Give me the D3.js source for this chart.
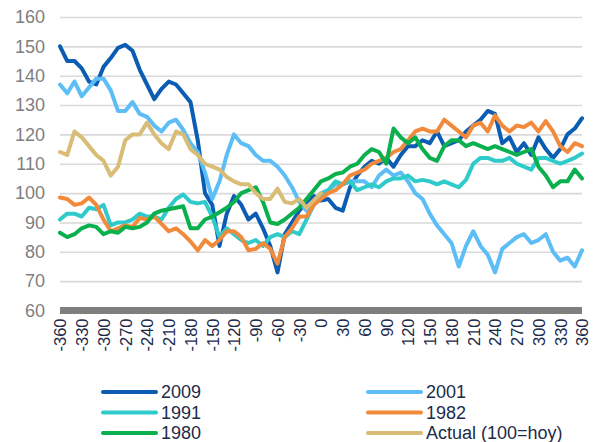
<!DOCTYPE html>
<html>
<head>
<meta charset="utf-8">
<script src="https://cdn.jsdelivr.net/npm/d3@7"></script>
<style>
  body { margin: 0; background: #fff; }
  svg { font-family: "Liberation Sans", Arial, sans-serif; }
</style>
</head>
<body>
<svg width="594" height="442"></svg>
<script>
// days relative to today, every 10 days
const days = d3.range(-360, 361, 10);
const xTicks = d3.range(-360, 361, 30);
const yTicks = [60, 70, 80, 90, 100, 110, 120, 130, 140, 150, 160];

const s2009 = [150, 145, 145, 142.5, 138, 137, 143, 146, 149.5, 150.5, 148.5, 142, 137, 132, 135.5,
  138, 137, 134, 131, 118, 100, 96, 82, 93, 99, 96, 91, 93, 88, 82, 73, 86, 90, 94, 97, 99, 97.5,
  98, 95, 94, 102, 106, 109, 111, 110, 112, 109, 113, 116, 116, 118, 117, 121, 116, 117, 118, 121,
  123, 125, 128, 127, 117, 119, 114, 117, 113, 119, 115, 112, 115, 120, 122, 125.5];
const s2001 = [137, 134, 138, 133, 136, 139, 139, 135, 128, 128, 131, 127, 126, 123, 121,
  124, 125, 121.5, 117, 114, 107, 98, 104, 113, 120, 117, 116, 113, 111, 111, 109, 106, 102, 97, 94,
  97, 100, 101, 103, 103, 104, 104, 104, 102, 106, 108, 106, 107, 104, 100, 98, 93, 89, 86, 83, 75,
  82, 87, 82, 79, 73, 81, 83, 85, 86, 83, 84, 86, 80, 77, 78, 75, 80.5];
const s1991 = [91, 93, 93, 92, 95, 94.5, 96, 89, 90, 90, 91, 93, 92, 92, 91, 95, 98, 99.5, 97,
  96.5, 97, 92, 85, 88, 86, 84, 83, 84, 82, 85, 86, 85, 87, 86, 91, 96, 99, 101, 104, 103, 104, 101,
  102, 103, 102, 104, 105, 105, 106, 104, 104.5, 104, 103, 104, 103, 102, 104.5, 110, 112, 112, 111,
  111, 112, 110, 109, 108, 112, 112, 111, 110, 111, 112, 113.5];
const s1982 = [98.5, 98, 96, 96.5, 98.5, 96, 91, 87, 88, 89, 88.5, 91.5, 91, 92, 89.5, 87, 88,
  86, 83.5, 80.5, 84, 82, 84, 87, 87, 85, 80.5, 81, 83, 81, 76, 85, 88, 92, 92, 96, 98, 100, 101, 103,
  106, 107, 108, 110, 111, 112, 114, 115, 118, 121, 122, 121, 121, 125, 123, 121, 119, 123, 124, 121,
  126.5, 123, 121, 123, 122.5, 124, 121, 124.5, 121, 116, 114, 117, 116];
const s1980 = [86.5, 85, 86, 88, 89, 88.5, 86, 87, 86.5, 88.5, 88, 88.5, 90, 93, 94, 94.5, 95,
  95.5, 88, 88, 91, 92, 93.5, 95, 97, 100, 101, 102, 97, 90, 89.5, 91, 93, 95, 98, 101, 104, 105,
  106.5, 107, 109, 110, 113, 115, 114, 110, 122, 119, 117, 119, 115, 112, 111, 116, 118, 118, 116,
  117, 116, 115, 116, 115, 114, 113, 114, 115, 109, 106, 102, 104, 104, 108, 105];
// only up to today
const sActual = [114, 113, 121, 119, 116, 113, 111, 106, 109, 118, 120, 120, 124, 120, 117,
  115, 121, 120, 115, 113, 110, 109, 108, 105.5, 104, 103, 103, 100, 98, 98, 101.5, 97, 96.5, 98,
  95, 97.5, 100];

const seriesNames = ['2009', '2001', '1991', '1982', '1980', 'Actual (100=hoy)'];
const seriesValues = [s2009, s2001, s1991, s1982, s1980, sActual];
const colors = ['#0b5db3', '#5cbdf7', '#2ecbca', '#f28a3b', '#0bb04e', '#d9bc75'];

const svg = d3.select('svg');
const margin = { left: 60, right: 12, top: 17 };
const plotW = 594 - margin.left - margin.right;

const x = d3.scaleLinear().domain([-360, 360]).range([margin.left, margin.left + plotW]);
const y = d3.scaleLinear().domain([60, 160]).range([310.5, 17]);

// gridlines + y labels
const yAxis = svg.append('g')
  .attr('transform', `translate(${margin.left},0)`)
  .call(d3.axisLeft(y).tickValues(yTicks).tickSize(-plotW).tickPadding(15));
yAxis.select('.domain').remove();
yAxis.selectAll('.tick line')
  .attr('stroke', '#d9d9d9')
  .attr('stroke-width', 1.6);
yAxis.selectAll('.tick text')
  .attr('fill', '#7f7f7f')
  .style('font-size', '18px');

// thick base line at 60
svg.append('line')
  .attr('x1', x(-360)).attr('x2', x(360))
  .attr('y1', y(60)).attr('y2', y(60))
  .attr('stroke', '#7f7f7f')
  .attr('stroke-width', 7);
yAxis.select('.tick line').attr('stroke', 'none');

// x labels, rotated (plain hyphen for negatives)
const xAxis = svg.append('g')
  .attr('transform', `translate(0,${y(60)})`)
  .call(d3.axisBottom(x).tickValues(xTicks).tickSize(0).tickFormat(d => String(d)));
xAxis.select('.domain').remove();
xAxis.selectAll('.tick text')
  .attr('transform', 'rotate(-90)')
  .attr('x', -8)
  .attr('y', 0)
  .attr('dy', '0.35em')
  .attr('text-anchor', 'end')
  .attr('fill', '#1c2b4b')
  .style('font-size', '16.5px');

const line = d3.line()
  .x((d, i) => x(days[i]))
  .y(d => y(d));

seriesValues.forEach((vals, k) => {
  svg.append('path')
    .attr('d', line(vals))
    .attr('fill', 'none')
    .attr('stroke', colors[k])
    .attr('stroke-width', 4)
    .attr('stroke-linejoin', 'round')
    .attr('stroke-linecap', 'round');
});

// legend, 2 columns
const legend = svg.append('g');
seriesNames.forEach((name, k) => {
  const lx = k % 2 === 0 ? 103 : 368;
  const ly = 392 + Math.floor(k / 2) * 20.5;
  legend.append('line')
    .attr('x1', lx).attr('x2', lx + 53)
    .attr('y1', ly).attr('y2', ly)
    .attr('stroke', colors[k])
    .attr('stroke-width', 4)
    .attr('stroke-linecap', 'round');
  legend.append('text')
    .attr('x', lx + 58)
    .attr('y', ly)
    .attr('dy', '0.35em')
    .attr('fill', '#1c2b4b')
    .style('font-size', '18px')
    .text(name);
});
</script>
</body>
</html>
